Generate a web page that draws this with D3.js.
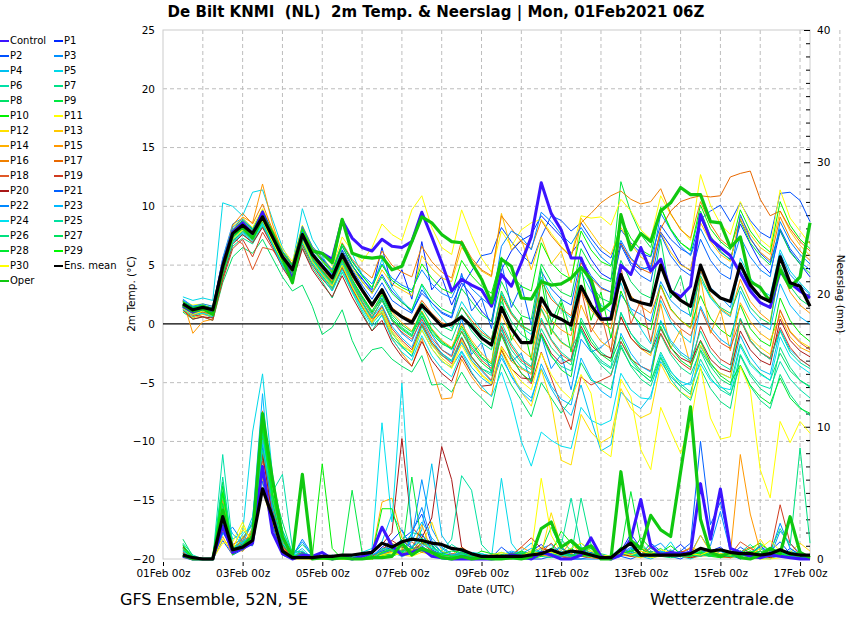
<!DOCTYPE html>
<html>
<head>
<meta charset="utf-8">
<script src="https://cdn.jsdelivr.net/npm/d3@7"></script>
<style>
body { margin: 0; background: #fff; }
text { font-family: "DejaVu Sans", sans-serif; }
</style>
</head>
<body>
<div id="chart"></div>
<script>
// time steps: 6-hourly from 01Feb 12Z, 64 steps
const firstHour = 12, stepHours = 6, nSteps = 64;

// names and colours of the runs
const memberNames = ["Control","P1","P2","P3","P4","P5","P6","P7","P8","P9","P10","P11","P12","P13","P14","P15",
  "P16","P17","P18","P19","P20","P21","P22","P23","P24","P25","P26","P27","P28","P29","P30"];
const memberColors = ["#3c14ff","#0028ff","#0050ff","#0090ff","#00c0f0","#00d8e8","#00e0a8","#00e088","#00e068","#00e840","#00f000",
  "#ffff00","#ffe000","#ffc800","#ffb000","#ff9800","#f08000","#e86800","#e05828","#d03c20","#a81818",
  "#0060ff","#0088ff","#00b8ff","#00e0f0","#00e0a0","#00e080","#00e060","#00e830","#00f800","#ffff00"];

// 2m temperature (deg C)
const t_Control = [1.5,1.0,1.3,1.0, 5.0,7.8,8.6,7.6, 9.5,7.5,5.7,3.8, 7.5,6.2,6.0,5.5, 8.8,7.3,6.5,6.2, 7.2,6.6,6.5,7.0, 9.5,7.4,5.2,2.8, 3.8,3.3,2.9,1.5, 4.2,3.2,5.2,7.4, 12.0,9.4,8.0,5.6, 5.6,3.5,0.4,0.5, 5.0,4.2,6.5,4.5, 5.5,2.8,2.3,3.2, 9.3,7.2,6.5,5.8, 4.3,2.8,1.8,1.4, 4.5,3.5,2.8,2.2];
const t_P1 = [1.9,1.4,1.6,1.3, 5.3,8.0,8.7,7.9, 9.4,7.6,6.0,4.9, 8.1,6.4,5.5,4.6, 6.6,5.0,3.8,2.9, 6.5,3.2,4.6,2.1, 7.0,2.9,4.0,1.6, 3.5,2.4,1.1,0.2, 4.6,6.2,7.1,7.6, 9.2,8.3,7.4,6.0, 7.1,5.5,4.3,3.8, 6.9,5.2,4.6,4.9, 7.8,6.6,5.1,4.5, 9.0,7.3,6.1,5.5, 8.5,6.8,5.2,4.3, 7.9,6.2,5.1,4.0];
const t_P2 = [1.6,1.0,1.2,1.1, 4.8,7.5,8.4,7.5, 9.0,7.2,5.9,4.5, 7.4,6.0,5.0,4.2, 6.3,4.9,3.9,2.7, 4.2,2.8,1.9,1.0, 2.6,1.8,0.9,0.5, 3.1,4.5,5.8,6.0, 8.2,7.0,5.9,5.1, 7.4,9.2,8.8,7.9, 8.6,7.3,6.2,5.6, 8.0,6.9,6.0,5.7, 8.4,7.2,6.4,5.9, 8.9,9.6,10.1,8.7, 10.3,8.8,7.8,7.3, 11.1,11.2,10.5,8.7];
const t_P3 = [2.1,1.5,1.5,1.2, 5.6,8.5,9.0,8.1, 9.7,7.9,5.8,4.7, 7.9,5.8,4.6,3.6, 5.5,3.8,2.2,0.9, 2.2,0.3,-0.8,-1.5, 0.6,-0.9,-2.2,-2.7, 0.5,-2.6,-1.6,-4.2, -0.2,-3.2,-2.5,-5.0, -1.0,-3.8,-2.6,-5.6, -1.3,-2.4,-2.0,-1.2, 2.5,1.3,0.8,0.2, 3.6,2.0,1.2,0.7, 4.4,3.1,2.3,1.4, 4.8,3.0,2.2,1.8, 6.0,4.2,3.3,2.5];
const t_P4 = [1.3,0.9,1.1,0.8, 4.3,7.1,7.9,7.3, 8.7,7.0,5.3,4.1, 7.1,5.4,4.3,3.1, 5.0,3.2,1.6,0.4, 1.2,-0.7,-1.9,-2.8, -0.5,-2.1,-3.2,-3.7, -2.3,-3.7,-4.6,-5.2, -2.9,-4.4,-5.6,-6.3, -3.8,-5.5,-6.9,-7.8, -5.2,-8.1,-10.8,-10.3, -5.8,-6.7,-7.2,-6.1, -3.2,-4.5,-5.3,-5.0, -1.9,-3.5,-4.2,-4.6, -1.0,-2.8,-3.9,-4.3, -0.5,-2.2,-3.0,-3.6];
const t_P5 = [2.3,2.0,2.2,2.0, 10.3,10.0,9.2,11.2, 11.4,8.9,6.5,5.0, 9.8,7.2,5.8,4.4, 9.0,6.0,4.2,3.0, 5.5,3.1,2.0,1.1, 3.3,1.5,0.5,-0.4, 1.9,0.6,-0.5,-1.3, 2.6,0.9,-0.3,-0.9, 4.0,2.4,1.2,0.5, 4.4,2.8,1.6,1.0, 3.5,1.2,-0.4,-1.7, 2.0,0.2,-0.9,-1.6, 3.8,2.2,1.2,0.6, 5.6,3.9,2.9,2.4, 6.3,4.5,3.5,2.6];
const t_P6 = [1.6,1.2,1.0,0.6, 4.1,6.9,7.6,7.0, 8.4,6.7,5.0,3.8, 6.8,5.1,3.9,2.8, 4.7,2.9,1.4,0.0, 1.0,-0.8,-1.9,-2.4, -0.2,-1.8,-2.7,-3.2, -1.5,-2.9,-3.8,-4.4, -0.8,-2.6,-3.7,-4.2, -1.0,-2.8,-3.6,-4.0, -0.6,-2.3,-3.3,-3.8, -1.5,-3.1,-4.2,-4.9, -2.4,-4.0,-5.1,-5.8, -3.0,-4.6,-5.6,-6.1, -2.6,-4.2,-5.2,-5.5, -3.2,-4.7,-5.6,-6.3];
const t_P7 = [1.2,0.6,0.9,0.5, 3.9,6.6,7.3,6.8, 8.3,6.9,4.9,3.6, 6.5,4.8,3.6,2.2, 4.4,2.7,1.0,-0.6, 0.8,-1.1,-2.0,-2.7, -0.1,-1.6,-2.5,-3.1, -1.1,-2.8,-3.8,-4.2, -0.5,-2.2,-3.3,-3.9, -0.4,-2.0,-2.9,-3.5, 0.5,-1.2,-2.4,-3.0, 0.9,-0.8,-2.0,-2.5, -0.9,-2.6,-3.7,-4.3, -2.3,-4.1,-5.3,-6.0, -3.6,-5.3,-6.5,-7.2, -4.3,-6.0,-7.1,-7.8];
const t_P8 = [1.0,0.4,0.6,0.3, 3.5,5.7,6.5,6.0, 7.2,5.6,4.0,2.8, 3.3,1.5,-0.9,-0.3, 1.2,-1.4,-3.2,-2.2, -2.0,-3.0,-3.6,-4.1, -2.7,-5.2,-5.1,-5.8, -4.1,-5.5,-6.3,-7.2, -3.4,-5.2,-6.5,-7.9, -5.0,-6.3,-7.6,-6.4, -3.3,-4.8,-5.1,-5.6, -2.0,-3.5,-4.2,-4.9, -2.8,-4.3,-5.3,-6.0, -2.2,-3.6,-4.7,-5.2, -1.7,-3.3,-4.2,-4.8, -2.5,-4.0,-4.8,-5.3];
const t_P9 = [1.8,1.3,1.4,1.3, 5.2,7.9,8.6,7.8, 9.6,7.8,6.1,4.9, 8.0,6.3,5.3,4.3, 6.6,5.0,3.6,2.6, 4.0,2.6,1.8,1.2, 3.4,2.1,1.3,0.9, 3.0,1.9,0.8,0.2, 3.6,1.9,0.7,0.4, 5.1,3.6,2.7,2.3, 6.4,4.9,3.9,3.6, 12.1,9.5,7.6,6.5, 9.9,8.1,6.9,6.2, 9.6,7.5,6.2,5.4, 8.8,6.9,5.8,5.0, 8.0,6.1,5.1,4.3];
const t_P10 = [1.5,0.9,1.2,1.0, 4.6,7.4,8.1,7.5, 8.9,7.2,5.5,4.3, 7.3,5.6,4.5,3.4, 5.4,3.7,2.3,1.0, 2.1,0.4,-0.4,-1.0, 0.7,-0.8,-1.7,-2.1, -0.2,-1.6,-2.8,-3.4, 2.4,-1.4,0.6,-3.1, 3.8,-0.9,1.8,-2.4, 4.9,0.3,2.7,-1.2, 2.8,0.9,0.0,-0.5, 3.3,1.3,0.3,-0.3, 2.4,0.5,-0.5,-1.1, 1.6,-0.4,-1.4,-1.9, 2.2,0.3,-0.8,-1.5];
const t_P11 = [1.9,1.6,1.7,1.5, 5.4,8.3,9.0,8.2, 9.8,8.1,6.4,5.3, 8.4,6.6,5.6,4.7, 7.4,6.2,5.3,6.5, 8.5,7.6,7.1,9.7, 10.9,8.2,6.5,5.9, 9.7,7.5,5.6,4.4, 7.9,6.6,8.0,8.6, 8.9,7.7,6.6,5.8, 9.2,9.0,9.1,8.4, 10.6,9.6,8.0,7.2, 10.9,9.3,8.1,7.1, 12.7,10.1,8.5,7.6, 10.4,8.6,7.2,6.5, 11.4,9.0,7.9,6.8];
const t_P12 = [1.4,0.9,1.0,0.7, 4.4,7.2,8.0,7.4, 8.8,7.1,5.2,4.0, 7.0,5.3,4.1,3.0, 4.9,3.1,1.5,0.1, 1.4,-0.6,-1.6,-2.4, 0.1,-1.7,-2.9,-3.6, -1.4,-3.1,-4.3,-5.0, -2.3,-4.1,-5.8,-7.0, -3.9,-6.6,-11.6,-12.0, -7.7,-9.2,-10.1,-9.6, -5.5,-7.2,-8.0,-7.6, -3.4,-5.0,-5.8,-6.3, -1.8,-3.4,-4.2,-4.6, 0.4,-1.2,-2.0,-2.6, 1.1,-0.6,-1.5,-2.0];
const t_P13 = [1.7,1.2,1.4,1.1, 4.7,7.5,8.3,7.6, 9.0,7.3,5.8,4.6, 7.7,6.0,5.0,4.0, 6.2,4.7,3.6,2.6, 4.6,3.4,2.9,2.4, 5.8,4.7,3.9,3.6, 6.5,5.4,4.5,4.0, 9.4,6.3,7.2,4.6, 7.4,5.1,6.2,3.5, 9.0,7.8,6.6,5.9, 8.2,6.8,5.7,5.1, 7.7,6.1,5.0,4.6, 8.6,7.0,5.9,5.3, 9.1,7.6,6.5,5.9, 9.6,7.9,6.7,5.8];
const t_P14 = [1.1,0.5,0.8,0.6, 4.0,7.0,7.8,7.1, 8.6,6.9,5.2,4.0, 7.2,5.5,4.4,3.3, 5.2,3.5,2.1,0.8, 2.6,1.0,0.1,-0.6, 1.1,-0.4,-1.4,-2.0, 0.0,-1.4,-2.5,-3.3, 0.8,-1.0,-2.2,-2.9, 1.2,-0.5,-1.6,-2.1, 1.6,-0.3,-1.5,-2.1, 0.6,-1.2,-2.1,-2.7, 1.7,-2.1,-0.5,-3.5, 3.9,-0.8,1.2,-2.3, 1.8,0.2,-0.8,-1.4, 0.7,-1.1,-2.0,-2.4];
const t_P15 = [2.0,-0.8,0.2,0.4, 4.8,7.9,9.1,8.6, 11.9,8.5,6.0,4.8, 8.3,6.2,4.8,3.6, 5.6,3.6,1.9,0.4, 0.9,-1.2,-2.5,-3.6, -1.2,-3.8,-6.4,-6.3, -3.0,-4.5,-5.6,-6.1, -1.9,-3.2,-3.8,-4.3, 1.6,0.3,-0.5,-1.0, 2.8,1.2,0.2,-0.4, 4.3,2.4,1.5,0.9, 3.2,1.2,0.3,-0.4, 4.6,2.5,1.3,0.7, 3.8,1.9,0.9,0.2, 4.9,2.7,1.6,0.9];
const t_P16 = [1.8,1.1,1.5,1.3, 5.1,8.4,9.4,8.5, 10.2,8.0,6.2,5.1, 8.2,6.5,5.4,4.5, 6.9,5.5,4.6,3.9, 6.2,5.0,4.4,4.0, 6.6,5.3,4.4,3.9, 7.1,5.6,4.6,4.1, 9.2,8.1,7.0,6.4, 8.8,7.5,6.5,5.7, 8.6,9.4,10.3,10.9, 11.3,10.6,10.2,10.4, 11.5,9.4,8.0,7.3, 10.4,8.5,7.2,6.5, 8.9,7.2,6.1,5.4, 9.1,7.3,6.2,5.4];
const t_P17 = [1.6,1.0,1.3,1.0, 4.5,7.4,8.3,7.5, 9.2,7.4,5.6,4.4, 7.4,5.7,4.6,3.5, 5.6,4.0,2.7,1.4, 2.9,1.4,0.7,0.3, 2.0,0.9,0.1,-0.2, 1.4,0.3,-0.7,-1.3, 2.4,0.8,-0.2,-0.6, 3.6,2.1,1.3,0.7, 5.2,3.9,3.0,2.7, 6.8,5.5,4.7,4.3, 8.1,9.6,10.4,10.7, 10.9,10.8,10.9,12.5, 12.8,13.0,10.6,9.2, 9.6,8.1,7.0,6.2];
const t_P18 = [1.3,0.7,1.0,0.8, 4.4,7.3,6.8,4.6, 6.5,6.3,5.4,4.3, 7.0,5.4,4.2,3.2, 5.0,3.4,1.9,0.6, 2.0,0.3,-0.7,-1.3, 0.4,-1.2,-2.2,-2.8, -0.6,-2.0,-3.1,-3.8, -0.2,-1.9,-3.1,-3.7, 0.3,-1.4,-2.6,-3.2, 3.0,-0.7,0.9,-2.4, 4.9,0.0,2.0,-1.5, 2.4,0.5,-0.4,-1.0, 1.3,-0.6,-1.6,-2.1, 0.4,-1.5,-2.4,-2.9, 1.2,-0.7,-1.6,-2.2];
const t_P19 = [1.5,0.8,0.6,0.3, 3.7,6.4,7.2,5.7, 7.8,6.4,4.9,3.7, 6.7,5.0,3.8,2.9, 4.8,3.0,1.5,0.2, 1.5,-0.4,-1.4,-2.2, 0.0,-1.6,-2.6,-3.4, -1.2,-2.8,-3.9,-4.8, -0.8,-2.8,-4.2,-5.1, -2.4,-4.6,-6.9,-9.0, -4.5,-5.2,-4.8,-4.4, -1.5,-3.0,-3.6,-4.0, -0.8,-2.4,-3.3,-3.9, -0.2,-2.0,-3.0,-3.5, 0.4,-1.4,-2.4,-3.0, -0.3,-2.0,-3.0,-3.6];
const t_P20 = [1.2,0.4,0.6,0.5, 4.0,6.8,7.6,6.9, 8.2,6.6,4.8,3.5, 6.4,4.6,3.4,2.3, 4.1,2.3,0.8,-0.6, 0.3,-1.6,-2.8,-3.6, -1.5,-3.1,-4.2,-4.9, -2.7,-4.2,-5.3,-5.2, -2.2,-3.8,-4.6,-4.7, -0.8,-2.5,-3.4,-3.0, -0.2,-1.8,-2.6,-2.9, 0.6,-1.2,-2.1,-2.4, -0.4,-2.0,-2.9,-3.3, -1.4,-3.0,-3.8,-4.1, -0.6,-2.2,-3.1,-3.5, 0.4,-1.4,-2.3,-2.8];
const t_P21 = [1.9,1.4,1.5,1.4, 5.0,7.8,8.5,7.8, 9.3,7.6,5.9,4.8, 7.8,6.1,5.1,4.1, 6.2,4.6,3.3,2.1, 3.5,2.0,1.4,0.9, 2.9,1.8,1.0,0.6, 4.3,1.1,2.2,-0.4, 5.2,1.4,3.3,-0.1, 4.5,3.0,2.1,1.6, 5.6,4.1,3.1,2.7, 6.7,5.0,4.1,3.6, 7.6,5.8,4.7,4.1, 7.2,5.4,4.3,3.8, 9.3,7.3,6.0,5.2, 8.1,6.4,5.3,4.6];
const t_P22 = [2.0,1.5,1.7,1.5, 5.5,8.2,8.9,8.0, 9.5,7.8,6.2,5.0, 8.3,6.6,5.6,4.6, 6.8,5.4,4.2,3.4, 5.1,3.9,3.3,2.9, 4.6,3.4,2.6,2.2, 4.1,3.0,2.2,1.5, 6.6,7.9,7.4,6.3, 9.5,8.7,7.6,6.8, 8.2,6.9,5.7,5.0, 7.1,5.6,4.8,4.6, 9.4,8.0,6.6,5.8, 8.1,6.4,5.3,4.7, 7.4,5.7,4.6,4.0, 8.7,7.0,5.9,5.1];
const t_P23 = [1.4,1.0,1.2,0.9, 4.4,7.0,7.8,7.2, 8.6,6.8,5.1,3.9, 7.2,5.4,4.3,3.2, 5.1,3.4,1.8,0.5, 1.6,-0.2,-1.2,-2.0, 0.2,-1.4,-2.5,-3.2, -1.6,-3.1,-4.0,-4.9, -2.6,-4.5,-5.8,-6.6, -3.4,-5.3,-6.4,-6.9, -2.9,-4.6,-5.7,-6.3, -0.8,-2.5,-3.6,-4.1, 0.3,-1.4,-2.4,-3.0, 1.5,-0.3,-1.3,-1.9, 2.8,1.0,0.0,-0.5, 3.4,1.6,0.6,0.0];
const t_P24 = [1.2,0.8,0.9,0.6, 4.2,6.9,7.7,7.1, 8.5,6.7,4.9,3.7, 6.9,5.1,4.0,2.8, 4.6,2.8,1.2,-0.2, 0.7,-1.3,-2.4,-3.1, -1.0,-2.7,-3.8,-4.5, -2.4,-4.1,-5.3,-6.2, -4.1,-6.6,-10.0,-12.1, -9.2,-9.9,-10.4,-10.6, -7.1,-8.2,-8.6,-8.2, -4.2,-5.6,-6.3,-6.4, -2.6,-4.1,-4.9,-5.2, -3.4,-4.8,-5.4,-5.6, -1.9,-3.5,-4.3,-4.8, -1.1,-2.8,-3.6,-4.2];
const t_P25 = [1.7,1.1,1.3,1.0, 4.5,7.3,8.1,7.4, 8.9,7.1,5.4,4.2, 7.3,5.5,4.4,3.4, 5.3,3.6,2.1,0.8, 2.4,0.6,-0.3,-0.9, 0.9,-0.6,-1.6,-2.2, -0.4,-1.8,-2.9,-3.6, 0.1,-1.7,-2.9,-3.6, 0.5,-1.3,-2.4,-3.1, -0.4,-2.1,-3.1,-3.7, 1.0,-0.8,-1.8,-2.4, 0.2,-1.6,-2.6,-3.2, -0.6,-2.4,-3.4,-3.9, 0.5,-1.4,-2.4,-3.0, -0.6,-2.4,-3.3,-3.8];
const t_P26 = [1.4,0.8,1.1,0.9, 4.3,7.0,7.9,7.2, 8.7,6.9,5.1,3.9, 7.0,5.2,4.1,3.0, 5.0,3.3,1.8,0.5, 2.0,0.3,-0.5,-1.1, 1.4,0.0,-0.9,-1.4, 0.8,-0.6,-1.6,-2.2, 1.9,0.2,-0.9,-1.5, 1.3,-0.4,-1.5,-2.1, -0.5,-2.3,-3.5,-4.3, -1.8,-3.6,-4.7,-5.3, -2.9,-4.7,-5.8,-6.5, -3.8,-5.5,-6.6,-7.2, -2.7,-4.4,-5.5,-6.1, -2.0,-3.7,-4.8,-5.4];
const t_P27 = [1.8,1.3,1.5,1.2, 5.0,7.8,8.5,7.8, 9.2,7.5,5.8,4.7, 7.7,6.0,5.0,4.0, 6.0,4.4,3.0,1.8, 3.0,1.3,0.6,0.1, 1.8,0.6,-0.2,-0.6, 1.4,0.1,-0.9,-1.4, 2.8,1.0,-0.1,-0.6, 4.7,0.1,2.1,-0.6, 4.9,3.3,2.2,1.8, 5.4,3.6,2.6,2.2, 7.2,2.2,4.1,0.6, 4.1,2.3,1.4,0.9, 3.2,1.4,0.5,0.0, 5.0,3.2,2.1,1.5];
const t_P28 = [1.5,1.0,1.2,1.0, 4.6,7.4,8.2,7.5, 9.0,7.2,5.5,4.3, 7.4,5.6,4.5,3.5, 5.5,3.8,2.4,1.1, 2.5,0.8,-0.1,-0.7, 1.0,-0.5,-1.5,-2.1, -0.7,-2.2,-3.3,-4.0, -1.0,-2.9,-4.2,-4.9, -0.9,-2.7,-3.9,-4.5, 0.2,-1.5,-2.6,-3.2, -1.1,-2.9,-4.0,-4.6, -0.2,-2.0,-3.1,-3.7, -1.5,-3.3,-4.4,-5.0, -3.5,-5.2,-6.2,-6.8, -4.6,-6.3,-7.2,-7.6];
const t_P29 = [1.9,1.4,1.6,1.3, 5.2,8.0,8.8,8.0, 9.6,7.8,6.1,5.0, 8.1,6.4,5.4,4.4, 6.8,5.3,4.1,3.1, 5.0,3.7,3.1,2.7, 5.1,3.9,3.0,2.6, 5.4,4.1,3.2,2.6, 5.7,4.2,3.2,2.8, 6.9,5.2,4.3,3.8, 7.9,6.3,5.3,4.9, 9.0,7.3,6.3,5.8, 9.9,8.0,6.9,6.3, 10.1,8.1,7.0,6.3, 9.7,7.9,6.8,6.1, 10.4,8.4,7.2,6.4];
const t_P30 = [1.3,0.8,1.1,0.9, 4.4,7.2,8.0,7.4, 8.8,7.0,5.3,4.1, 7.1,5.3,4.2,3.2, 5.0,3.2,1.6,0.2, 1.1,-0.8,-1.8,-2.5, -0.5,-2.1,-3.1,-3.8, -1.8,-3.3,-4.4,-5.1, -2.0,-3.8,-4.9,-5.6, -2.5,-4.3,-5.6,-6.4, -4.3,-5.9,-10.7,-11.3, -4.7,-6.2,-10.7,-12.4, -7.1,-9.1,-11.0,-8.5, -3.6,-8.0,-9.8,-9.6, -3.6,-5.6,-12.4,-14.8, -8.3,-10.1,-8.3,-9.3];
const t_Oper = [1.6,1.1,1.3,0.8, 4.6,7.6,8.2,7.3, 9.1,7.7,5.6,3.5, 7.6,6.2,6.0,5.2, 8.9,6.0,5.7,5.6, 5.7,4.6,4.9,7.0, 9.1,8.6,7.6,7.0, 6.9,5.2,3.8,1.8, 5.5,4.9,2.2,2.1, 3.6,3.3,3.4,3.9, 4.8,3.8,1.1,1.8, 9.3,6.3,7.7,7.0, 9.6,10.3,11.6,11.0, 11.0,8.7,8.6,6.5, 7.4,3.6,3.1,1.9, 4.6,3.1,4.0,8.6];
const t_Mean = [1.7,1.2,1.4,1.2, 4.9,7.7,8.4,7.7, 9.1,7.4,5.7,4.6, 7.6,5.9,4.9,3.9, 5.9,4.3,2.9,1.6, 2.9,1.2,0.6,0.1, 1.6,0.7,-0.2,0.0, 0.6,-0.2,-1.2,-1.8, 1.4,-0.4,-1.6,-1.6, 2.2,0.8,0.4,-0.1, 3.2,1.6,0.4,0.4, 4.2,2.1,1.8,1.6, 5.0,2.8,2.0,1.5, 5.0,2.9,2.2,1.9, 5.1,3.3,2.3,1.9, 5.7,3.5,3.2,1.5];

// precipitation (mm per 6h)
const r_Control = [0.2,0,0,0, 2.5,0.5,0.8,1.2, 7.0,2.0,0.4,0, 0.3,0.2,0.5,0, 0.2,0,0.2,0.5, 2.4,1.0,0.3,0.5, 0.8,0.2,0.1,0, 0,0,0,0, 0.1,0.3,0.2,0, 0.5,0.3,0,0, 0.3,1.6,0.2,0, 0.3,1.5,4.5,1.0, 0.3,0.5,0.4,0.5, 5.7,1.5,5.3,0.8, 0.5,0.2,0.1,0.3, 0.2,0.1,0,0];
const r_P1 = [0.4,0.1,0,0, 2.1,0.6,1.0,1.5, 6.2,2.6,0.5,0, 0.4,0,0,0, 0,0,0,0.2, 0.9,1.4,2.2,0.8, 1.0,0.4,0.1,0, 0,0,0,0, 0,0,0.3,0.6, 1.1,0.4,0,0, 0,0.2,0,0, 0.6,1.9,0.8,0.3, 0.2,0.5,1.1,0.4, 0.2,0.6,0.9,0.3, 0,0.3,1.0,0.4, 0.2,0.8,0.3,0];
const r_P2 = [0.2,0,0,0, 1.4,0.3,0.7,1.9, 9.2,3.5,0.8,0, 0.2,0,0,0, 0.1,0,0,0, 0.4,0.8,1.5,2.1, 3.4,1.1,0.2,0, 0.6,0.2,0,0.1, 0.9,0.3,0,0, 0,0.2,0.5,0.2, 0.8,0.3,0,0, 0.2,0,0.3,1.2, 0.6,0.2,0,0.4, 1.8,0.6,0.3,0.2, 0.9,0.4,0.2,0.6, 1.3,0.4,0.2,0];
const r_P3 = [0.6,0.2,0,0, 2.9,1.1,0.6,2.4, 8.4,4.1,1.2,0.3, 1.3,0.2,0,0, 0,0.3,0,0, 0.5,1.2,0.4,1.6, 6.0,2.3,0.9,0.4, 0.2,0,0,0, 0,0.2,0.4,0.2, 0.8,1.1,0.3,0, 0,0,0,0.2, 0.4,0.9,0.3,0.8, 1.2,0.4,0.2,0.5, 0.4,1.0,3.6,0.6, 0.3,0.2,0,0.2, 2.1,1.2,0.4,0.2];
const r_P4 = [0.3,0,0,0, 2.4,0.9,1.3,3.2, 9.8,3.0,0.9,0.2, 0.6,0,0,0.3, 0,0,0.4,0.6, 1.3,3.4,2.1,0.9, 2.2,7.2,1.8,0.7, 0.4,0.2,0,0, 0.1,0.3,0.6,1.2, 0.3,0.2,0.8,0.4, 0.2,0.5,0.3,0.2, 0.9,0.4,0.2,0, 0.3,0.7,0.2,0.1, 0.5,0.3,0.2,0.4, 0.2,0,0.3,0.5, 0.8,0.2,0,0];
const r_P5 = [0.5,0,0,0, 4.0,1.5,2.0,9.6, 14.0,6.4,2.1,0.5, 0.4,0,0,0, 0,0,0,0, 0.3,0.5,0.2,0.4, 0.9,0.3,0,0, 0,0,0.3,0.1, 6.1,1.2,0.2,0, 0.4,0.3,0.2,0, 0.5,0.3,0,0, 0.2,0.6,0.3,0.1, 0.4,1.3,0.2,0, 0.3,0.4,0.6,0.2, 0.2,0.5,0.1,0, 0.3,0.6,0.2,0.1];
const r_P6 = [1.2,0.3,0,0, 7.9,1.0,0.8,2.2, 7.6,5.1,6.4,0.8, 0.3,0,0,0, 0,0.2,0,0, 0.3,0.6,0.9,0.5, 1.6,0.9,0.4,1.1, 0.6,0.4,0.2,0.1, 0.2,0,0,0.4, 0.3,0.5,0.2,0.8, 1.2,0.6,0.3,0.2, 0.5,0.3,0.8,0.4, 0.2,0.6,0.3,0.2, 0.7,0.3,0.2,0.4, 0.5,1.1,0.4,0.8, 0.4,0.3,0.2,0];
const r_P7 = [0.8,0.1,0,0, 5.1,0.4,1.6,2.7, 10.5,4.6,1.4,0.3, 1.1,0.3,0,0, 0,0,0,0.1, 0.6,0.9,1.2,0.4, 0.7,0.5,0.2,0.3, 0.2,0.1,0,0, 0.3,0.2,0.5,0.4, 0.2,0.1,0.3,0.2, 4.6,1.1,0.4,0.2, 0.4,0.3,0.6,0.2, 0.5,0.3,0.2,0.1, 0.3,0.5,0.2,0.3, 0.5,0.2,0.3,0.4, 0.2,0.6,0.3,0];
const r_P8 = [1.5,0.2,0,0, 3.6,0.8,1.1,2.0, 8.8,5.5,2.8,0.4, 0.2,0,0.5,0, 0,0,0,0, 0.4,0.5,0.3,2.0, 1.8,1.2,0.5,0.3, 0.4,0.2,0,0.1, 0.2,0.4,0.2,0.1, 0.3,0.8,1.5,0.6, 0.3,0.2,0.1,0, 0.6,0.4,0.3,0.6, 0.2,0.1,0.2,0.3, 0.4,0.3,0.1,0.2, 0.3,0.2,0.1,0.2, 0.5,0.2,0.3,0.1];
const r_P9 = [0.6,0,0,0, 4.4,0.5,0.9,1.4, 9.9,3.8,1.1,0.1, 0.4,0.1,0,0, 0,5.2,0.5,0, 0.2,0.8,0.4,6.2, 1.2,1.0,0.3,0.2, 0.8,0.3,0,0, 0,0.1,0.2,0, 0.6,2.4,0.8,0.3, 0.4,0.8,0.2,0, 0.3,0.7,1.0,0.4, 0.8,0.2,0.3,0.5, 0.4,0.2,0.3,0.1, 0.2,0.4,0.6,0.2, 0.3,0.1,0.2,0];
const r_P10 = [0.9,0.1,0,0, 5.5,0.3,1.2,1.8, 8.0,3.4,0.6,0, 0.5,0.2,7.2,0.8, 0,0,0,0, 0.3,0.2,0.5,0.3, 1.3,0.7,0.2,0, 0,0.2,0.6,0.4, 0.3,0.2,0,0, 0.2,0.5,2.1,1.2, 0.6,0.3,0.2,0.1, 0.9,0.4,1.6,0.8, 0.5,1.0,0.4,0.2, 0.3,0.2,0.1,0.2, 0.4,0.8,1.2,0.6, 0.2,0.3,0.2,0];
const r_P11 = [0.1,0,0,0, 1.2,1.3,2.8,1.0, 5.4,2.4,0.3,0, 0,0,0,0, 0,0,0,0, 0.2,0.4,0.3,0.2, 0.5,0.3,0.2,0, 0,0,0,0.1, 0.4,0.2,0.3,0.5, 6.1,1.8,0.5,0.2, 0.3,0.2,0.1,0, 0.4,0.6,0.3,0.1, 0.2,0.3,0.5,0.2, 0.6,0.4,0.2,0.1, 0.3,0.2,0,0, 0.1,0.4,0.2,0];
const r_P12 = [0.3,0,0,0, 2.2,0.9,2.2,1.6, 6.0,2.8,0.5,0, 0.2,0,0,0, 0,0,0,0.2, 0.6,1.2,0.8,0.4, 1.1,2.8,0.6,0.2, 0.4,0.3,0,0, 0,0.2,0.6,0.3, 0.4,3.5,1.0,0.2, 0.2,0.3,0,0, 0.5,0.2,0.1,0.3, 0.4,0.2,0.6,0.3, 1.8,0.5,0.2,0.1, 0.6,0.3,1.5,0.4, 0.2,0.5,1.2,0.6];
const r_P13 = [0.4,0,0,0, 3.1,0.4,1.7,1.1, 7.1,3.3,0.7,0, 0.1,0,0,0, 0,0,0,0, 0.4,0.6,1.0,0.5, 0.8,0.4,0.1,0, 0.2,0,0,0, 0,0,0.2,0.4, 0.9,0.6,0.2,0, 0.4,0.2,0.1,0, 0.3,0.6,0.4,0.2, 0.5,0.2,0.4,0.9, 0.6,0.3,0.2,0.4, 0.3,0.5,0.2,0.1, 0.4,0.2,0.1,0];
const r_P14 = [0.5,0.1,0,0, 1.7,0.3,1.0,2.3, 6.8,4.2,1.0,0.2, 0.3,0,0,0, 0,0,0,0.4, 4.3,4.6,1.6,0.7, 2.6,0.6,0.3,0.2, 0.3,0.1,0,0, 0.2,0.3,0.5,0.2, 0.4,0.6,0.3,1.4, 0.2,0.3,0.1,0, 0.8,0.4,0.3,0.5, 0.4,0.2,0.3,0.1, 0.5,0.7,0.4,0.2, 0.3,0.2,0.1,0.2, 0.6,0.3,0.2,0];
const r_P15 = [0.3,0,0,0, 4.5,0.7,0.6,1.3, 8.1,3.9,0.8,0, 0.2,0,0,0, 0,0,0,0.2, 0.5,0.8,1.1,0.6, 1.5,0.5,0.2,0.3, 0.9,0.4,0.2,0, 0.1,0.3,0.9,0.5, 0.3,0.2,0.6,0.4, 0.8,0.5,0.2,0, 0.3,0.2,0.8,0.5, 0.4,0.6,0.3,0.2, 0.5,0.3,0.6,0.4, 7.9,3.4,0.6,0.3, 0.4,0.2,0.3,0.1];
const r_P16 = [0.2,0,0,0, 2.6,0.8,1.4,1.8, 11.2,4.4,0.9,0.1, 0.4,0,0,0, 0,0,0,0, 0.4,0.3,0.7,0.5, 0.6,0.4,0.2,0, 0.1,0,0,0, 0,0.2,0.1,0.3, 0.5,0.4,0.2,0.1, 0.2,0.1,0,0, 0.4,0.3,0.6,0.2, 0.3,0.5,0.2,0.1, 0.2,0.3,0.4,0.2, 0.6,0.3,0.2,0.4, 0.2,0.3,0.1,0];
const r_P17 = [0.4,0,0,0, 3.3,0.5,0.9,2.1, 9.1,3.1,0.4,0, 0.1,0,0,0, 0,0,0,0, 0.3,0.6,0.4,0.8, 0.5,0.7,0.3,0.1, 0.2,0,0,0, 0,0.1,0.2,0.1, 0.3,0.5,0.2,0, 0.3,0.2,0,0.2, 0.6,0.3,0.2,0.4, 0.2,0.3,0.5,0.8, 0.4,0.3,0.2,0.6, 0.5,0.9,0.3,0.2, 0.3,0.2,0.1,0];
const r_P18 = [0.7,0.1,0,0, 3.8,1.1,1.5,2.6, 7.4,4.9,1.3,0.2, 0.5,0,0,0, 0.2,0,0,0, 0.8,1.0,0.6,1.3, 0.7,0.5,0.2,0.4, 0.3,0.1,0,0, 0.2,0.4,0.3,0.2, 0.5,1.2,0.4,0.3, 0.3,0.2,0.1,0, 0.6,0.4,0.3,0.9, 0.4,0.6,0.3,0.2, 0.5,0.2,0.4,0.3, 1.3,0.8,0.4,0.2, 0.3,0.2,0.4,0.1];
const r_P19 = [0.5,0,0,0, 2.8,0.6,1.2,1.5, 6.6,3.7,1.0,0.1, 0.2,0,0,0, 0,0,0,0.2, 0.7,1.4,0.9,0.6, 1.2,0.6,0.4,0.2, 0.5,0.1,0,0, 0.3,0.2,0.9,1.6, 0.8,0.6,0.3,0.2, 0.4,0.3,0,0, 0.5,0.3,0.2,0.4, 0.3,0.2,0.6,0.4, 0.3,0.5,0.2,0.1, 0.4,0.6,0.3,0.5, 4.1,1.2,0.3,0.1];
const r_P20 = [0.9,0.2,0,0, 3.0,0.4,0.8,1.2, 7.9,3.3,0.8,0, 0.3,0,0,0, 0,0,0,0.4, 1.1,2.0,9.1,2.4, 1.6,3.1,8.5,6.0, 0.9,0.3,0,0, 0.2,0.4,0.2,0.1, 0.3,0.6,0.4,0.2, 0.2,0.3,0.1,0, 0.4,0.2,0.3,0.6, 0.2,0.5,0.3,0.1, 0.3,0.4,0.2,0.2, 0.4,0.2,0.3,0.1, 0.3,0.1,0.2,0];
const r_P21 = [0.3,0,0,0, 2.0,0.8,1.1,1.0, 5.9,2.5,0.3,0, 0.5,0.2,0,0, 0,0,0.2,0.3, 0.6,0.9,1.4,0.8, 1.9,0.7,0.3,0.1, 0.3,0.2,0,0, 0.2,0.5,0.3,0.1, 0.6,0.4,0.9,0.3, 0.2,0.5,0.2,0, 0.4,0.6,0.3,0.2, 0.5,0.3,0.6,1.2, 8.9,2.6,4.3,0.8, 0.5,0.3,0.2,0.4, 0.6,0.2,0.1,0];
const r_P22 = [0.4,0.1,0,0, 1.9,2.4,1.3,1.7, 8.7,3.6,1.1,0.2, 1.5,0.3,0,0, 0,0,0,0, 0.4,0.7,1.0,1.9, 3.9,1.4,0.5,0.2, 0.4,0.2,0,0, 0,0.3,0.2,0.1, 0.4,0.3,0.2,0.5, 0.6,0.2,0.1,0, 0.3,0.8,0.4,0.2, 0.6,0.3,0.2,0.4, 0.5,0.7,0.3,0.2, 0.3,0.5,0.9,0.4, 2.7,0.8,0.3,0.1];
const r_P23 = [0.6,0.1,0,0, 3.4,1.9,1.1,2.9, 12.5,4.0,1.5,0.3, 0.8,0,0,0, 0,0,0,0.3, 0.7,1.1,0.5,1.4, 2.8,1.6,0.8,0.3, 0.5,0.2,0.4,0.2, 0.3,0.6,0.4,0.8, 0.4,0.3,0.6,0.2, 0.5,0.2,0.3,0.1, 0.3,0.5,0.2,0.4, 0.6,0.4,0.3,0.2, 0.4,0.2,0.6,0.3, 0.2,0.4,0.3,0.2, 0.5,0.3,0.2,0];
const r_P24 = [0.4,0,0,0, 2.7,0.6,1.9,2.5, 9.0,4.4,1.2,0.4, 0.2,0,0,0, 0,0,0.5,0.8, 10.3,2.8,13.3,1.5, 1.1,0.8,0.4,0.2, 0.3,0.5,0.4,0.2, 0.2,0.3,0.2,0.6, 0.5,0.4,0.3,0.2, 0.3,0.2,0.1,0.2, 0.5,0.3,0.2,0.4, 0.3,0.2,0.4,0.3, 0.2,0.5,0.3,0.2, 0.6,0.3,0.2,0.3, 0.4,0.2,0.3,0.1];
const r_P25 = [1.0,0.2,0,0, 6.2,0.7,1.3,1.6, 8.2,4.8,2.2,0.5, 0.6,0,0,0, 0,0,0,0, 0.8,0.6,0.4,0.9, 1.4,0.8,0.6,1.5, 6.3,5.2,1.1,0.3, 0.5,0.3,0.2,0.4, 0.6,0.5,1.0,4.6, 0.9,0.4,0.2,0.1, 0.5,0.3,0.4,0.2, 0.3,0.6,0.2,0.4, 0.5,0.3,0.2,0.6, 0.4,0.5,0.3,0.2, 0.3,0.2,0.5,0.1];
const r_P26 = [0.7,0.1,0,0, 4.8,0.9,0.7,1.4, 9.4,5.8,1.6,0.1, 0.3,0,0,0, 0,0,0,0, 0.5,0.8,0.6,0.3, 0.9,0.6,0.3,0.2, 0.4,0.2,0,0, 0.2,0.3,0.5,0.2, 0.4,0.3,0.2,0.6, 0.3,0.2,0.1,0, 0.4,0.6,0.3,0.5, 0.2,0.4,0.3,0.2, 0.6,0.3,0.4,0.2, 0.5,0.3,1.1,0.6, 2.3,1.0,8.4,1.2];
const r_P27 = [1.1,0,0,0, 5.8,0.5,1.1,1.9, 10.8,5.0,1.8,0.2, 0.4,0,0,0, 0,0,0,0, 0.4,0.3,0.6,0.8, 0.6,0.5,0.3,0.2, 0.2,0.1,0,0, 0.2,0.4,0.3,0.2, 0.5,0.3,0.4,0.2, 0.6,0.8,0.3,0.1, 0.5,0.3,0.2,0.6, 0.3,0.2,0.5,0.4, 0.2,0.6,0.3,0.2, 0.3,0.2,0.6,0.3, 0.5,0.3,0.2,0];
const r_P28 = [0.8,0,0,0, 4.2,0.3,0.9,1.6, 10.1,4.3,1.1,0.2, 0.3,0,0,0, 0,0,0,0, 0.5,0.7,0.4,0.5, 0.8,0.5,0.4,0.6, 0.5,0.2,0.1,0, 0.3,0.2,0.6,0.3, 0.4,0.7,0.5,0.3, 0.2,0.4,0.3,0.1, 0.6,5.1,1.2,0.4, 0.3,0.5,0.2,0.3, 0.4,0.2,0.3,0.2, 0.6,0.4,0.8,0.3, 0.5,0.4,0.2,0.1];
const r_P29 = [1.0,0.1,0,0, 5.0,0.6,1.0,1.8, 10.3,4.9,1.6,0.1, 0.3,0,0,0, 0,0,0,0.3, 3.8,3.8,1.2,0.6, 0.7,0.4,0.3,0.2, 0.2,0,0,0, 0.3,0.2,0.4,0.3, 0.3,0.5,0.4,0.8, 0.3,0.2,0.1,0, 0.4,0.6,0.8,0.3, 0.2,0.4,0.3,0.2, 0.5,0.3,0.2,0.4, 0.3,0.6,0.4,0.2, 0.4,0.2,0.6,0.1];
const r_P30 = [0.2,0,0,0, 1.5,0.7,2.5,1.2, 6.3,2.9,0.4,0, 0.1,0,0,0, 0,0,0,0, 0.3,0.5,0.4,0.6, 0.8,0.4,0.2,0.1, 0.1,0,0.2,0.3, 0.5,0.3,0.2,0.6, 0.4,0.5,0.3,0.8, 1.2,0.6,0.3,0.2, 0.5,0.3,0.6,0.4, 0.7,0.5,0.3,0.4, 0.3,0.6,0.4,0.3, 0.5,0.3,0.8,1.4, 0.6,0.4,0.3,0.2];
const r_Oper = [0.3,0,0,0, 3.7,0.7,0.9,1.7, 11.0,6.0,1.7,0.2, 6.4,0,0.1,0, 0.1,0,0,0.1, 0.1,0.2,1.2,0.3, 0.8,0.5,0.1,0, 0.2,0,0.1,0, 0,0.1,0,0.2, 2.3,2.8,0.9,1.4, 0.7,1.0,0,0, 6.6,1.4,0.8,3.3, 2.2,1.7,6.6,11.5, 3.0,0.5,0.2,0.5, 0.1,0,0.3,0.8, 0.4,3.2,0.5,0.1];
const r_Mean = [0.3,0.1,0,0, 3.2,0.7,0.9,1.4, 5.3,3.2,0.6,0.1, 0.1,0.1,0.2,0.2, 0.3,0.3,0.4,0.5, 1.2,0.9,1.3,1.5, 1.4,1.2,1.1,0.8, 0.7,0.4,0.2,0.2, 0.2,0.2,0.2,0.3, 0.4,0.7,0.4,0.6, 0.5,0.3,0.1,0.1, 0.7,1.2,0.3,0.3, 0.3,0.3,0.3,0.4, 0.8,0.6,0.7,0.5, 0.4,0.4,0.3,0.4, 0.7,0.4,0.3,0.3];

// axis tick values
const tempTicks = [-20,-15,-10,-5,0,5,10,15,20,25];
const precipLabels = [0,10,20,30,40];

const memberTemps = [t_Control,t_P1,t_P2,t_P3,t_P4,t_P5,t_P6,t_P7,t_P8,t_P9,t_P10,t_P11,t_P12,t_P13,t_P14,t_P15,
  t_P16,t_P17,t_P18,t_P19,t_P20,t_P21,t_P22,t_P23,t_P24,t_P25,t_P26,t_P27,t_P28,t_P29,t_P30];
const memberRain = [r_Control,r_P1,r_P2,r_P3,r_P4,r_P5,r_P6,r_P7,r_P8,r_P9,r_P10,r_P11,r_P12,r_P13,r_P14,r_P15,
  r_P16,r_P17,r_P18,r_P19,r_P20,r_P21,r_P22,r_P23,r_P24,r_P25,r_P26,r_P27,r_P28,r_P29,r_P30];

const W = 850, H = 620;
const plotL = 163, plotR = 810, plotT = 30, plotB = 559;
const t0 = Date.UTC(2021, 1, 1, 0);
const hour = 3600e3;
const times = d3.range(nSteps).map(i => new Date(t0 + (firstHour + i * stepHours) * hour));

const svg = d3.select("#chart").append("svg").attr("width", W).attr("height", H);
svg.append("rect").attr("width", W).attr("height", H).attr("fill", "#fff");

const x = d3.scaleUtc().domain([new Date(t0), new Date(t0 + (16 * 24 + 6) * hour)]).range([plotL, plotR]);
const yT = d3.scaleLinear().domain([-20, 25]).range([plotB, plotT]);
const yP = d3.scaleLinear().domain([0, 40]).range([plotB, plotT]);

// grid
const days = d3.utcDay.range(new Date(t0 + 24 * hour), new Date(t0 + 17 * 24 * hour + 1));
svg.append("g").selectAll("line").data(days).join("line")
  .attr("x1", d => x(d)).attr("x2", d => x(d)).attr("y1", plotT).attr("y2", plotB)
  .attr("stroke", "#bdbdbd").attr("stroke-dasharray", "4,3");
svg.append("g").selectAll("line").data(tempTicks.filter(v => v !== 0 && v > -20 && v < 25)).join("line")
  .attr("x1", plotL).attr("x2", plotR).attr("y1", d => yT(d)).attr("y2", d => yT(d))
  .attr("stroke", "#bdbdbd").attr("stroke-dasharray", "4,3");
svg.append("rect").attr("x", plotL).attr("y", plotT).attr("width", plotR - plotL).attr("height", plotB - plotT)
  .attr("fill", "none").attr("stroke", "#cccccc");
svg.append("line").attr("x1", plotL).attr("x2", plotR).attr("y1", yT(0)).attr("y2", yT(0))
  .attr("stroke", "#000").attr("stroke-width", 1.2);

// axes
const yAxis = svg.append("g").attr("transform", `translate(${plotL},0)`)
  .call(d3.axisLeft(yT).tickValues(tempTicks).tickSize(0).tickPadding(8));
yAxis.select(".domain").remove();
yAxis.selectAll("text").attr("font-size", 10.5).attr("font-family", "DejaVu Sans");

const pAxis = svg.append("g").attr("transform", `translate(${plotR},0)`)
  .call(d3.axisRight(yP).tickValues(d3.range(0, 41)).tickSize(-4).tickPadding(7)
    .tickFormat(d => precipLabels.includes(d) ? d : ""));
pAxis.select(".domain").remove();
pAxis.selectAll("text").attr("font-size", 10.5).attr("font-family", "DejaVu Sans");
pAxis.selectAll(".tick line").attr("x2", d => d % 10 === 0 ? -6 : -4);

const xAxis = svg.append("g").attr("transform", `translate(0,${plotB + 3})`)
  .call(d3.axisBottom(x).tickValues(d3.utcDay.every(2).range(new Date(t0), new Date(t0 + 17 * 24 * hour)))
    .tickSize(4).tickPadding(4).tickFormat(d3.utcFormat("%d%b %Hz")));
xAxis.select(".domain").remove();
xAxis.selectAll("text").attr("font-size", 10.5).attr("font-family", "DejaVu Sans");

// series
const lineT = d3.line().x((d, i) => x(times[i])).y(d => yT(d));
const lineP = d3.line().x((d, i) => x(times[i])).y(d => yP(d));

const plot = svg.append("g");
for (let k = 1; k < memberNames.length; k++) {
  plot.append("path").attr("d", lineT(memberTemps[k])).attr("fill", "none")
    .attr("stroke", memberColors[k]).attr("stroke-width", 1);
  plot.append("path").attr("d", lineP(memberRain[k])).attr("fill", "none")
    .attr("stroke", memberColors[k]).attr("stroke-width", 1);
}
const heavy = [
  {t: t_Control, r: r_Control, c: memberColors[0], w: 3},
  {t: t_Oper, r: r_Oper, c: "#10c810", w: 3.2},
  {t: t_Mean, r: r_Mean, c: "#000", w: 3.2}
];
heavy.forEach(s => {
  plot.append("path").attr("d", lineT(s.t)).attr("fill", "none").attr("stroke", s.c)
    .attr("stroke-width", s.w).attr("stroke-linejoin", "round");
  plot.append("path").attr("d", lineP(s.r)).attr("fill", "none").attr("stroke", s.c)
    .attr("stroke-width", s.w).attr("stroke-linejoin", "round");
});

// legend
const legendItems = memberNames.map((n, i) => ({n, c: memberColors[i]}))
  .concat([{n: "Ens. mean", c: "#000"}, {n: "Oper", c: "#10c810"}]);
const lg = svg.append("g");
legendItems.forEach((it, i) => {
  const col = i % 2, row = Math.floor(i / 2);
  const lx = col === 0 ? 0 : 54, ly = 41 + row * 15;
  lg.append("line").attr("x1", lx).attr("x2", lx + 9).attr("y1", ly).attr("y2", ly)
    .attr("stroke", it.c).attr("stroke-width", 2);
  lg.append("text").attr("x", lx + 10).attr("y", ly + 3).attr("font-size", 10).text(it.n);
});

// titles
svg.append("text").attr("x", 436).attr("y", 17).attr("text-anchor", "middle")
  .attr("font-size", 15).attr("font-weight", "bold").style("white-space", "pre")
  .text("De Bilt KNMI  (NL)  2m Temp. & Neerslag | Mon, 01Feb2021 06Z");
svg.append("text").attr("transform", "translate(135,294) rotate(-90)").attr("text-anchor", "middle")
  .attr("font-size", 10.5).text("2m Temp. (°C)");
svg.append("text").attr("transform", "translate(837,294) rotate(90)").attr("text-anchor", "middle")
  .attr("font-size", 10.5).text("Neerslag (mm)");
svg.append("text").attr("x", 486).attr("y", 593).attr("text-anchor", "middle")
  .attr("font-size", 10.5).text("Date (UTC)");
svg.append("text").attr("x", 120).attr("y", 605).attr("font-size", 16).text("GFS Ensemble, 52N, 5E");
svg.append("text").attr("x", 794).attr("y", 605).attr("text-anchor", "end").attr("font-size", 16).text("Wetterzentrale.de");
</script>
</body>
</html>
